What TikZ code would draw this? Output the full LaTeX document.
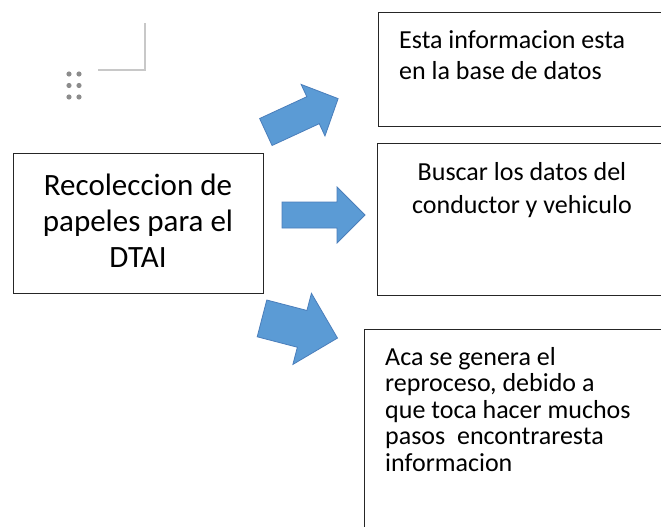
\documentclass[tikz,border=0pt]{standalone}
\usepackage{fontspec}
\setmainfont{Carlito}
\definecolor{arrowfill}{HTML}{5B9BD5}
\definecolor{arrowedge}{HTML}{4A7EBB}
\definecolor{boxline}{HTML}{262626}
\definecolor{dotgray}{HTML}{8C8C8C}
\definecolor{cornergray}{HTML}{C8C8C8}
\tikzset{
  boxshape/.style={draw=boxline, line width=1.4pt, rectangle, inner sep=0pt},
  boxtext/.style={inner sep=0pt, text=black, align=left},
  bigtext/.style={boxtext, align=center, font=\fontsize{31}{36}\selectfont},
  smalltext/.style={boxtext, font=\fontsize{26}{31}\selectfont},
  blockarrow/.style={fill=arrowfill, draw=arrowedge, line width=0.8pt, line join=miter},
  handledot/.style={fill=dotgray, draw=none},
}
% block arrow: length, shaft width, head width, head length
\newcommand{\myblockarrow}[4]{%
  \path[blockarrow] (0,-#2/2) -- ({#1-#4},-#2/2) -- ({#1-#4},-#3/2) -- (#1,0)
    -- ({#1-#4},#3/2) -- ({#1-#4},#2/2) -- (0,#2/2) -- cycle;}
\begin{document}
\begin{tikzpicture}[x=1pt, y=-1pt]
\useasboundingbox (0,0) rectangle (661,527);
\clip (0,0) rectangle (661,527);
\fill[white] (0,0) rectangle (661,527);

% faint corner mark and drag handle
\draw[cornergray, line width=1.3pt] (98,70) -- (145,70) -- (145,23);
\foreach \yy in {74,85.5,97}{
  \fill[handledot] (69,\yy) circle (2.6);
  \fill[handledot] (79,\yy) circle (2.6);
}

% boxes
\node[boxshape, minimum width=250pt, minimum height=140pt, anchor=north west] (src) at (13,152.5) {};
\node[boxshape, minimum width=300pt, minimum height=113.5pt, anchor=north west] (info) at (378,12) {};
\node[boxshape, minimum width=300pt, minimum height=152pt, anchor=north west] (buscar) at (377,143) {};
\node[boxshape, minimum width=310pt, minimum height=220pt, anchor=north west] (aca) at (364,329) {};

% texts (anchor = baseline of the last line)
\node[bigtext, anchor=base] (srctext) at (138,267) {Recoleccion de\\papeles para el\\DTAI};
\node[smalltext, anchor=base west] (infotext) at (399,79) {Esta informacion esta\\en la base de datos};
\node[smalltext, align=center, font=\fontsize{26}{33}\selectfont, anchor=base] (buscartext) at (522,213) {Buscar los datos del\\conductor y vehiculo};
\node[smalltext, font=\fontsize{26}{26.5}\selectfont, anchor=base west] (acatext) at (385,471) {Aca se genera el\\reproceso, debido a\\que toca hacer muchos\\pasos\ \ encontraresta\\informacion};

% block arrows
\begin{scope}[shift={(265.85,132)}, rotate=24.8]
  \myblockarrow{79.6}{29.7}{56.8}{27.6}
\end{scope}
\begin{scope}[shift={(282,215)}]
  \myblockarrow{83}{26}{56}{28}
\end{scope}
\begin{scope}[shift={(262,318.4)}, rotate=-14.6]
  \myblockarrow{78}{38}{73.5}{36.5}
\end{scope}
\end{tikzpicture}
\end{document}
